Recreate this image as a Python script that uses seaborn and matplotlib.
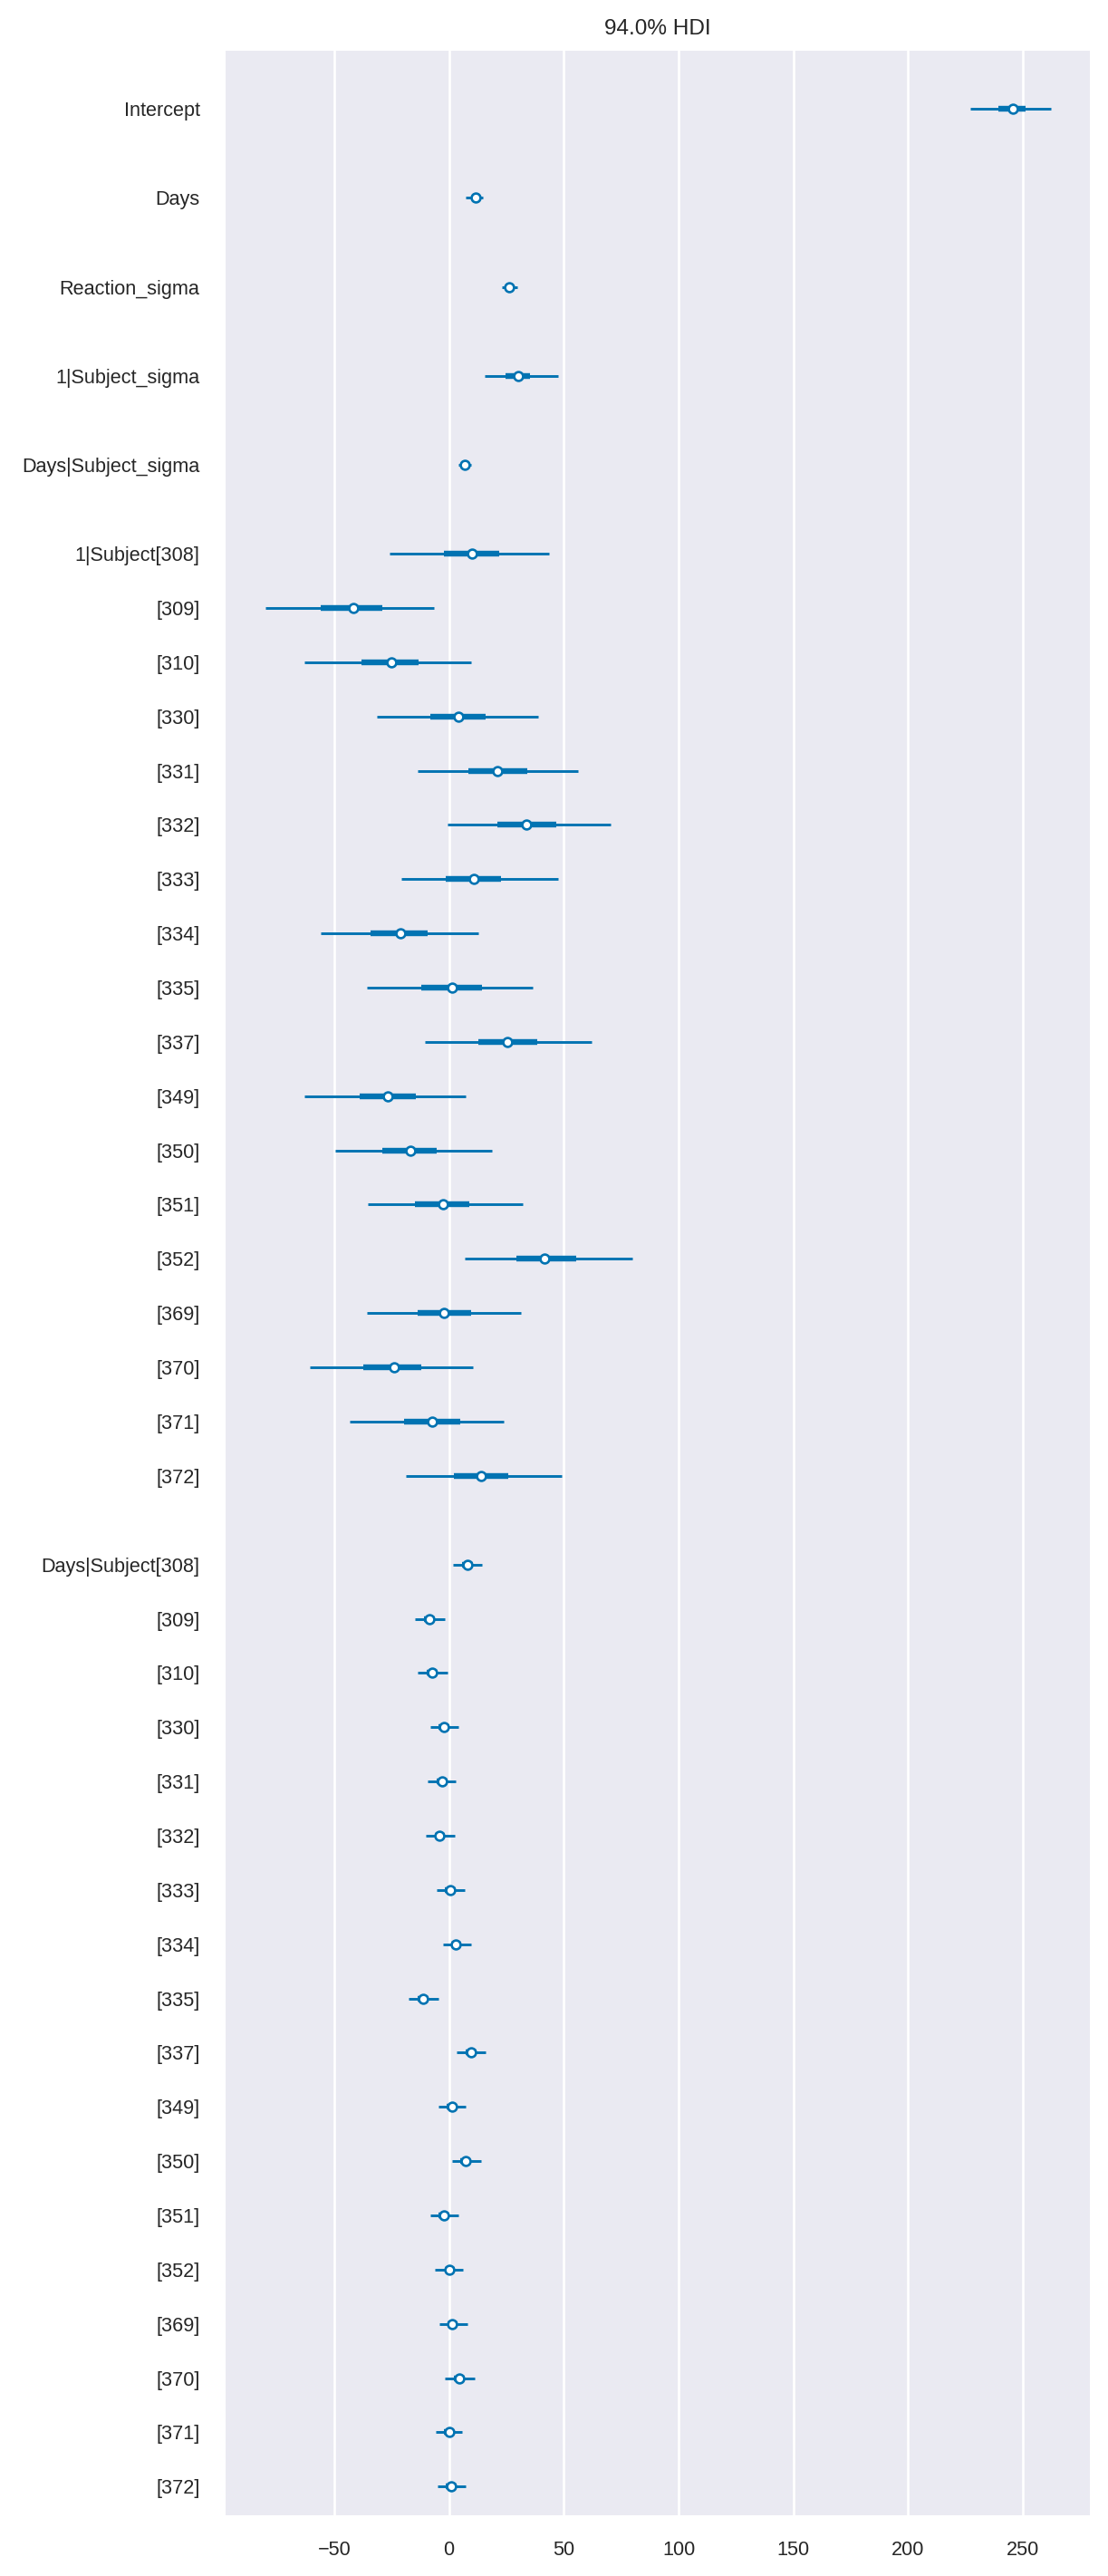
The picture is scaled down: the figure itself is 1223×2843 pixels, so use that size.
import numpy as np
import pandas as pd
import matplotlib
matplotlib.use("Agg")
import matplotlib.pyplot as plt
import seaborn as sns

# ---------------- data ----------------
single_names = ["Intercept", "Days", "Reaction_sigma", "1|Subject_sigma", "Days|Subject_sigma"]
single_lo  = [226.9, 7.3, 23.0, 15.7, 4.0]
single_q25 = [239.2, 9.9, 25.0, 24.6, 5.7]
single_med = [245.7, 11.5, 26.2, 30.2, 6.8]
single_q75 = [251.3, 13.0, 27.4, 35.4, 7.9]
single_hi  = [262.2, 14.6, 29.8, 47.7, 9.6]

subjects = ["308", "309", "310", "330", "331", "332", "333", "334", "335",
            "337", "349", "350", "351", "352", "369", "370", "371", "372"]

int_lo  = [-25.8, -80.0, -62.8, -31.4, -13.8, -0.6, -20.6, -56.0, -35.7,
           -10.5, -62.8, -49.5, -35.4, 6.8, -35.7, -60.6, -43.1, -18.8]
int_q25 = [-2.2, -56.0, -38.2, -8.0, 8.3, 21.2, -1.5, -34.2, -12.0,
           12.9, -38.8, -29.2, -14.8, 29.5, -13.8, -37.5, -19.4, 2.2]
int_med = [10.2, -41.8, -25.2, 4.0, 20.9, 33.8, 10.8, -21.2, 1.2,
           25.5, -26.5, -16.9, -2.8, 41.5, -2.2, -24.0, -7.4, 13.8]
int_q75 = [21.8, -28.9, -13.2, 16.0, 34.2, 46.8, 22.8, -9.5, 14.2,
           38.5, -14.5, -5.2, 8.9, 55.4, 9.8, -12.0, 4.9, 25.8]
int_hi  = [43.7, -6.5, 9.5, 38.8, 56.3, 70.5, 47.7, 12.9, 36.3,
           62.2, 7.1, 18.8, 32.3, 80.0, 31.4, 10.5, 24.0, 48.9]

day_lo  = [1.9, -14.8, -13.5, -8.0, -9.5, -10.2, -5.5, -2.5, -17.5,
           3.4, -4.6, 1.2, -8.0, -6.2, -4.0, -1.8, -5.8, -4.9]
day_q25 = [5.7, -10.9, -9.7, -4.4, -5.4, -6.3, -1.7, 0.8, -13.7,
           7.2, -1.1, 4.8, -4.5, -2.0, -0.8, 2.3, -2.3, -1.4]
day_med = [8.0, -8.6, -7.4, -2.2, -3.1, -4.0, 0.5, 3.1, -11.4,
           9.5, 1.2, 7.1, -2.2, 0.3, 1.5, 4.6, 0.0, 0.9]
day_q75 = [10.3, -6.3, -5.1, 0.1, -0.8, -1.7, 2.8, 5.4, -9.1,
           11.8, 3.5, 9.4, 0.1, 2.6, 3.8, 6.9, 2.3, 3.2]
day_hi  = [14.5, -1.8, -0.6, 4.0, 3.1, 2.5, 6.7, 9.5, -4.6,
           16.0, 7.4, 13.8, 4.0, 6.2, 8.0, 11.1, 5.8, 7.4]

xticks = [-50, 0, 50, 100, 150, 200, 250]
title = "94.0% HDI"

# ---------------- build table with row positions ----------------
GROUP_GAP = 1.64
rows = []
y = 0.0
for i, n in enumerate(single_names):
    rows.append((n, single_lo[i], single_q25[i], single_med[i], single_q75[i], single_hi[i], y))
    y += GROUP_GAP
for j, s in enumerate(subjects):
    lab = f"1|Subject[{s}]" if j == 0 else f"[{s}]"
    rows.append((lab, int_lo[j], int_q25[j], int_med[j], int_q75[j], int_hi[j], y))
    y += 1
y += GROUP_GAP - 1
for j, s in enumerate(subjects):
    lab = f"Days|Subject[{s}]" if j == 0 else f"[{s}]"
    rows.append((lab, day_lo[j], day_q25[j], day_med[j], day_q75[j], day_hi[j], y))
    y += 1
df = pd.DataFrame(rows, columns=["label", "lo", "q25", "med", "q75", "hi", "ypos"])

# ---------------- plot ----------------
sns.set_theme(style="darkgrid")
plt.rcParams["font.family"] = ["Liberation Sans", "DejaVu Sans"]

W, H, DPI = 1223, 2843, 100
fig = plt.figure(figsize=(W / DPI, H / DPI), dpi=DPI)
ax = fig.add_axes([249 / W, 1 - 2775.7 / H, (1202.7 - 249) / W, (2775.7 - 55.7) / H])

color = "#0173b2"
ax.hlines(df["ypos"], df["lo"], df["hi"], color=color, linewidth=2.1, zorder=3)
ax.hlines(df["ypos"], df["q25"], df["q75"], color=color, linewidth=4.6, zorder=3)
sns.scatterplot(data=df, x="med", y="ypos", ax=ax, marker="o", s=50,
                facecolor="white", edgecolor=color, linewidth=1.9, zorder=4)

ax.set_xlim(-97.3, 279.0)
ax.set_ylim(df["ypos"].iloc[-1] + 0.525, -1.08)
ax.set_xticks(xticks)
ax.set_yticks(df["ypos"])
ax.set_yticklabels(df["label"])
ax.set_xlabel("")
ax.set_ylabel("")
ax.grid(axis="y", visible=False)
ax.grid(axis="x", color="white", linewidth=1.9)
ax.tick_params(axis="both", length=0, pad=20.5, labelsize=15.6, colors=".15")
for sp in ax.spines.values():
    sp.set_visible(False)
ax.set_title(title, fontsize=17.6, color=".15", pad=12.5)

fig.savefig("out.png", dpi=DPI)
